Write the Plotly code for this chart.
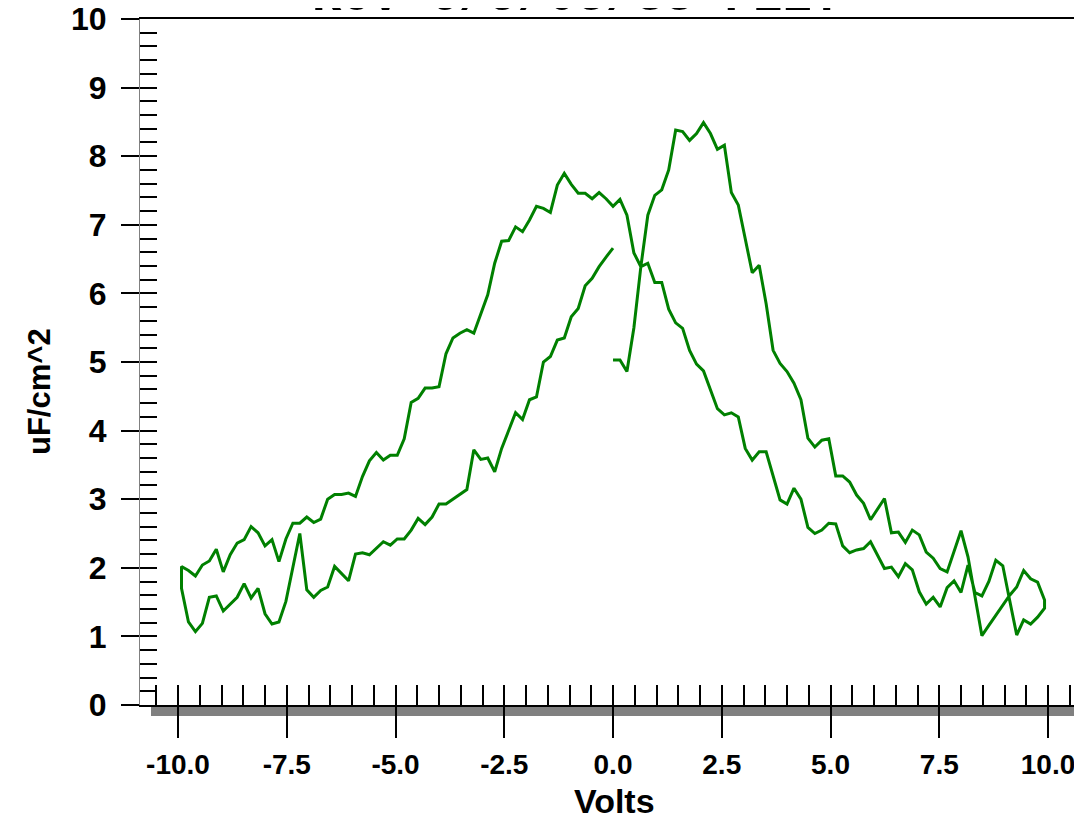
import plotly.graph_objects as go

# ---------------- data ----------------
# forward sweep 0 -> +10 V
fwd_volts = [0.00, 0.16, 0.32, 0.48, 0.64, 0.80, 0.96, 1.12, 1.28, 1.44,
             1.60, 1.76, 1.92, 2.08, 2.24, 2.40, 2.56, 2.72, 2.88, 3.04,
             3.20, 3.36, 3.52, 3.68, 3.84, 4.00, 4.16, 4.32, 4.48, 4.64,
             4.80, 4.96, 5.12, 5.28, 5.44, 5.60, 5.76, 5.92, 6.08, 6.24,
             6.40, 6.56, 6.72, 6.88, 7.04, 7.20, 7.36, 7.52, 7.68, 7.84,
             8.00, 8.16, 8.32, 8.48, 8.64, 8.80, 8.96, 9.12, 9.28, 9.44,
             9.60, 9.76, 9.92]
fwd_cap = [5.03, 5.03, 4.86, 5.50, 6.39, 7.14, 7.43, 7.51, 7.80, 8.38,
           8.36, 8.23, 8.33, 8.49, 8.33, 8.10, 8.16, 7.47, 7.29, 6.78,
           6.30, 6.41, 5.85, 5.17, 4.98, 4.86, 4.69, 4.45, 3.89, 3.76,
           3.86, 3.88, 3.34, 3.34, 3.25, 3.06, 2.94, 2.70, 2.85, 3.01,
           2.51, 2.52, 2.37, 2.55, 2.48, 2.23, 2.14, 1.99, 1.94, 2.23,
           2.54, 2.16, 1.58, 1.01, 1.16, 1.31, 1.46, 1.60, 1.72, 1.96,
           1.84, 1.79, 1.53]

# return sweep +10 -> -10 V
ret_volts = [9.92, 9.76, 9.60, 9.44, 9.28, 9.12, 8.96, 8.80, 8.64, 8.48,
             8.32, 8.16, 8.00, 7.84, 7.68, 7.52, 7.36, 7.20, 7.04, 6.88,
             6.72, 6.56, 6.40, 6.24, 6.08, 5.92, 5.76, 5.60, 5.44, 5.28,
             5.12, 4.96, 4.80, 4.64, 4.48, 4.32, 4.16, 4.00, 3.84, 3.68,
             3.52, 3.36, 3.20, 3.04, 2.88, 2.72, 2.56, 2.40, 2.24, 2.08,
             1.92, 1.76, 1.60, 1.44, 1.28, 1.12, 0.96, 0.80, 0.64, 0.48,
             0.32, 0.16, 0.00, -0.16, -0.32, -0.48, -0.64, -0.80, -0.96, -1.12,
             -1.28, -1.44, -1.60, -1.76, -1.92, -2.08, -2.24, -2.40, -2.56, -2.72,
             -2.88, -3.04, -3.20, -3.36, -3.52, -3.68, -3.84, -4.00, -4.16, -4.32,
             -4.48, -4.64, -4.80, -4.96, -5.12, -5.28, -5.44, -5.60, -5.76, -5.92,
             -6.08, -6.24, -6.40, -6.56, -6.72, -6.88, -7.04, -7.20, -7.36, -7.52,
             -7.68, -7.84, -8.00, -8.16, -8.32, -8.48, -8.64, -8.80, -8.96, -9.12,
             -9.28, -9.44, -9.60, -9.76, -9.92]
ret_cap = [1.41, 1.28, 1.18, 1.24, 1.02, 1.52, 2.03, 2.11, 1.80, 1.59,
           1.64, 2.04, 1.64, 1.81, 1.71, 1.43, 1.57, 1.47, 1.65, 1.97,
           2.06, 1.87, 2.01, 1.99, 2.19, 2.38, 2.28, 2.26, 2.22, 2.32,
           2.64, 2.65, 2.55, 2.50, 2.59, 3.00, 3.16, 2.93, 2.99, 3.33,
           3.69, 3.69, 3.57, 3.74, 4.20, 4.26, 4.23, 4.32, 4.59, 4.87,
           4.97, 5.17, 5.49, 5.57, 5.77, 6.16, 6.16, 6.44, 6.39, 6.59,
           7.14, 7.37, 7.27, 7.38, 7.47, 7.38, 7.46, 7.46, 7.59, 7.75,
           7.58, 7.18, 7.24, 7.27, 7.07, 6.90, 6.97, 6.77, 6.76, 6.44,
           5.98, 5.71, 5.42, 5.47, 5.42, 5.35, 5.12, 4.64, 4.62, 4.62,
           4.47, 4.41, 3.88, 3.64, 3.64, 3.57, 3.68, 3.56, 3.33, 3.04,
           3.09, 3.07, 3.07, 3.00, 2.71, 2.66, 2.74, 2.65, 2.65, 2.42,
           2.09, 2.41, 2.32, 2.51, 2.60, 2.41, 2.36, 2.19, 1.94, 2.27,
           2.10, 2.04, 1.88, 1.96, 2.02]

# final sweep -10 -> 0 V
fin_volts = [-9.92, -9.76, -9.60, -9.44, -9.28, -9.12, -8.96, -8.80, -8.64, -8.48,
             -8.32, -8.16, -8.00, -7.84, -7.68, -7.52, -7.36, -7.20, -7.04, -6.88,
             -6.72, -6.56, -6.40, -6.24, -6.08, -5.92, -5.76, -5.60, -5.44, -5.28,
             -5.12, -4.96, -4.80, -4.64, -4.48, -4.32, -4.16, -4.00, -3.84, -3.68,
             -3.52, -3.36, -3.20, -3.04, -2.88, -2.72, -2.56, -2.40, -2.24, -2.08,
             -1.92, -1.76, -1.60, -1.44, -1.28, -1.12, -0.96, -0.80, -0.64, -0.48,
             -0.32, -0.16, 0.00]
fin_cap = [1.70, 1.21, 1.07, 1.19, 1.57, 1.59, 1.37, 1.47, 1.57, 1.77,
           1.56, 1.70, 1.33, 1.18, 1.21, 1.51, 2.02, 2.50, 1.68, 1.57,
           1.67, 1.72, 2.02, 1.92, 1.81, 2.20, 2.22, 2.19, 2.28, 2.38,
           2.33, 2.42, 2.42, 2.55, 2.72, 2.63, 2.74, 2.93, 2.93, 3.00,
           3.06, 3.14, 3.72, 3.58, 3.60, 3.40, 3.74, 4.01, 4.26, 4.16,
           4.45, 4.49, 5.00, 5.08, 5.32, 5.35, 5.66, 5.78, 6.11, 6.22,
           6.39, 6.53, 6.66]

x_tick_vals = [-10.0, -7.5, -5.0, -2.5, 0.0, 2.5, 5.0, 7.5, 10.0]
x_tick_text = ["-10.0", "-7.5", "-5.0", "-2.5", "0.0", "2.5", "5.0", "7.5", "10.0"]
y_tick_vals = [0, 1, 2, 3, 4, 5, 6, 7, 8, 9, 10]

title_text = "KCV 6/9/05/33 FEET"
x_title = "Volts"
y_title = "uF/cm^2"

# ---------------- figure ----------------
# (page body has an 8px margin, so figure pixel = window pixel - 8)
W, H = 1082, 818
L, R, T, B = 132, 8, 11, 121
plot_w, plot_h = W - L - R, H - T - B
x_range = [-10.874, 10.781]
y_range = [0, 10]


def px(xp):
    return (xp - L) / plot_w


def py(yp):
    return (H - B - yp) / plot_h


volts = fwd_volts + ret_volts + fin_volts
cap = fwd_cap + ret_cap + fin_cap

fig = go.Figure()
fig.add_trace(go.Scatter(x=volts, y=cap, mode="lines",
                         line=dict(color="#008000", width=3),
                         showlegend=False, hoverinfo="skip"))
# helper trace so the overlay axes (minor ticks) are drawn
fig.add_trace(go.Scatter(x=[None], y=[None], xaxis="x2", yaxis="y2",
                         showlegend=False, hoverinfo="skip"))

bold = dict(family="Liberation Sans, Arial, sans-serif", color="black", weight="bold")

fig.update_layout(
    width=W, height=H,
    margin=dict(l=L, r=R, t=T, b=B, pad=0, autoexpand=False),
    paper_bgcolor="white", plot_bgcolor="rgba(0,0,0,0)",
    xaxis=dict(range=x_range, tickvals=x_tick_vals, ticktext=x_tick_text,
               ticks="outside", ticklen=31, tickwidth=2, tickcolor="black",
               showline=True, linecolor="black", linewidth=1.5, mirror=True,
               showgrid=False, zeroline=False, automargin=False,
               ticklabeloverflow="allow",
               tickfont=dict(size=28, **bold), ticklabelstandoff=3),
    yaxis=dict(range=y_range, tickvals=y_tick_vals,
               ticks="outside", ticklen=18, tickwidth=2, tickcolor="black",
               showline=True, linecolor="#808080", linewidth=1,
               showgrid=False, zeroline=False, automargin=False,
               ticklabeloverflow="allow",
               tickfont=dict(size=32, **bold), ticklabelstandoff=8),
    xaxis2=dict(range=x_range, overlaying="x", anchor="y2", side="bottom",
                tick0=0, dtick=0.5, ticks="inside", ticklen=20, tickwidth=2,
                tickcolor="black", showticklabels=False, showline=False,
                showgrid=False, zeroline=False),
    yaxis2=dict(range=y_range, overlaying="y", anchor="x2", side="left",
                tick0=0, dtick=0.2, ticks="inside", ticklen=17, tickwidth=2,
                tickcolor="black", showticklabels=False, showline=False,
                showgrid=False, zeroline=False),
    shapes=[dict(type="rect", xref="paper", yref="paper",
                 x0=px(143), x1=1.0,
                 y0=py(708), y1=0,
                 fillcolor="#808080", line=dict(width=0), layer="below")],
    annotations=[
        dict(text=x_title, xref="paper", yref="paper",
             x=px(606), y=py(793),
             xanchor="center", yanchor="middle", showarrow=False,
             font=dict(size=34, **bold)),
        dict(text=y_title, xref="paper", yref="paper", textangle=-90,
             x=px(32), y=py(384),
             xanchor="center", yanchor="middle", showarrow=False,
             font=dict(size=31, **bold)),
        dict(text=title_text, xref="paper", yref="paper",
             x=px(568.5), y=py(19),
             xanchor="center", yanchor="bottom", showarrow=False,
             font=dict(size=49, family="Liberation Mono, Courier New, monospace",
                       color="black", weight="bold")),
    ],
)

fig.write_html("out.html")
